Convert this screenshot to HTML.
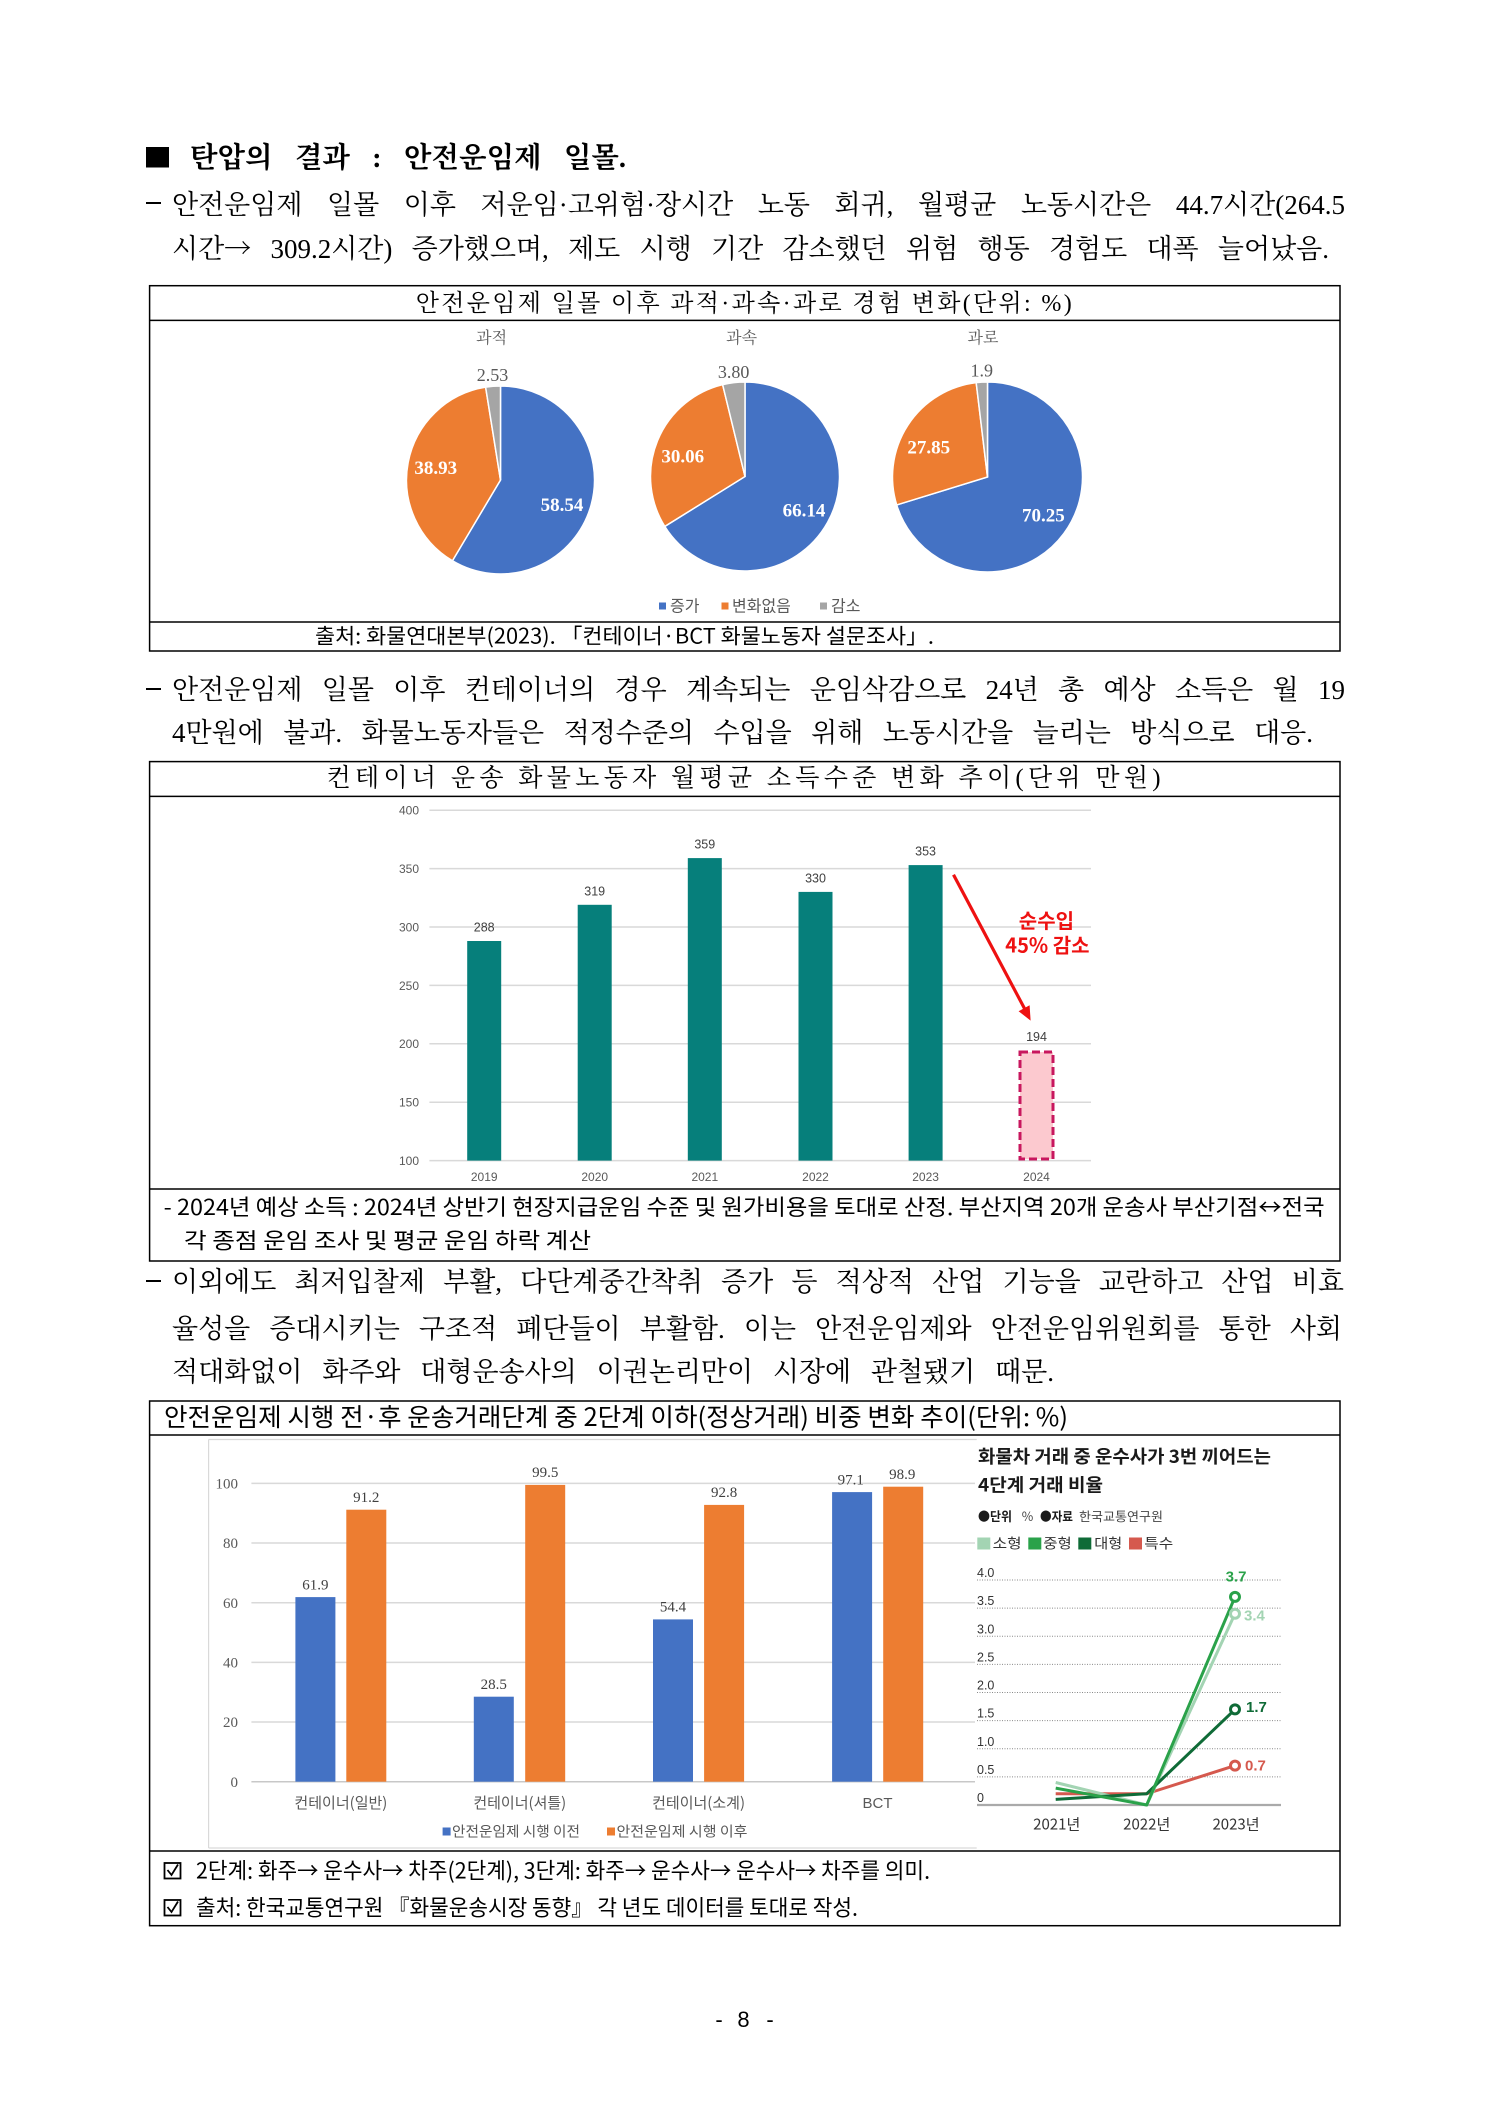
<!DOCTYPE html>
<html><head><meta charset="utf-8">
<style>
html,body{margin:0;padding:0;background:#fff}
#pg{position:relative;width:1488px;height:2105px;overflow:hidden;background:#fff}
.l{position:absolute;font-family:"Liberation Serif","Noto Serif CJK SC",serif;font-size:27px;line-height:40px;height:40px;text-align:justify;text-align-last:justify;color:#000;white-space:normal}
.a{font-family:"Noto Serif CJK SC",serif}
.d{position:absolute;left:146px;width:15px;height:2px;background:#000}
svg{position:absolute;left:0;top:0}
.sf{font-family:"Liberation Serif","Noto Serif CJK SC",serif}
.ss{font-family:"Liberation Sans","Noto Sans CJK KR",sans-serif}
.kr{font-family:"Noto Sans CJK KR","Liberation Sans",sans-serif}
</style></head><body><div id="pg">
<svg width="1488" height="2105" viewBox="0 0 1488 2105" xmlns="http://www.w3.org/2000/svg">
<!-- title square -->
<rect x="146" y="147" width="23" height="20.5" fill="#000"/>

<!-- ===== BOX 1 ===== -->
<g fill="none" stroke="#000" stroke-width="1.5">
<rect x="149.6" y="285.7" width="1190.4" height="365.3"/>
<line x1="149.6" y1="320.4" x2="1340" y2="320.4"/>
<line x1="149.6" y1="622" x2="1340" y2="622"/>
</g>
<text class="sf" x="415.7" y="311" font-size="24" textLength="656" lengthAdjust="spacing">안전운임제 일몰 이후 과적·과속·과로 경험 변화(단위: %)</text>
<g class="sf" font-size="16" fill="#595959" text-anchor="middle">
<text x="491.6" y="343">과적</text>
<text x="741.6" y="343">과속</text>
<text x="983" y="343">과로</text>
</g>
<g class="sf" font-size="18" fill="#595959" text-anchor="middle">
<text x="492.5" y="381">2.53</text>
<text x="733.6" y="378">3.80</text>
<text x="981.8" y="376.3">1.9</text>
</g>
<g stroke="#fff" stroke-width="1.5">
<path d="M500.5,480 L500.5,386 A94,94 0 1 1 452.44,560.78 Z" fill="#4472C4"/>
<path d="M500.5,480 L452.44,560.78 A94,94 0 0 1 485.62,387.18 Z" fill="#ED7D31"/>
<path d="M500.5,480 L485.62,387.18 A94,94 0 0 1 500.5,386 Z" fill="#A5A5A5"/>
<path d="M745,476.5 L745,382 A94.5,94.5 0 1 1 664.77,526.43 Z" fill="#4472C4"/>
<path d="M745,476.5 L664.77,526.43 A94.5,94.5 0 0 1 722.65,384.68 Z" fill="#ED7D31"/>
<path d="M745,476.5 L722.65,384.68 A94.5,94.5 0 0 1 745,382 Z" fill="#A5A5A5"/>
<path d="M987.5,477 L987.5,382 A95,95 0 1 1 896.70,504.93 Z" fill="#4472C4"/>
<path d="M987.5,477 L896.70,504.93 A95,95 0 0 1 976.19,382.67 Z" fill="#ED7D31"/>
<path d="M987.5,477 L976.19,382.67 A95,95 0 0 1 987.5,382 Z" fill="#A5A5A5"/>
</g>
<g class="sf" font-size="19" font-weight="bold" fill="#fff" text-anchor="middle">
<text x="562" y="511">58.54</text>
<text x="435.8" y="474">38.93</text>
<text x="804" y="516.5">66.14</text>
<text x="682.7" y="462.3">30.06</text>
<text x="1043.4" y="521.5">70.25</text>
<text x="928.7" y="453.6">27.85</text>
</g>
<rect x="659" y="602.5" width="7" height="7" fill="#4472C4"/>
<rect x="721.5" y="602.5" width="7" height="7" fill="#ED7D31"/>
<rect x="820" y="602.5" width="7" height="7" fill="#A5A5A5"/>
<g class="kr" font-size="16" fill="#595959">
<text x="670" y="611.5">증가</text>
<text x="732" y="611.5">변화없음</text>
<text x="831" y="611.5">감소</text>
</g>
<text class="kr" x="315" y="643.5" font-size="21" textLength="619" lengthAdjust="spacingAndGlyphs">출처: 화물연대본부(2023). 「컨테이너·BCT 화물노동자 설문조사」.</text>

<!-- ===== BOX 2 ===== -->
<g fill="none" stroke="#000" stroke-width="1.5">
<rect x="149.6" y="761.6" width="1190.4" height="499.4"/>
<line x1="149.6" y1="796.4" x2="1340" y2="796.4"/>
<line x1="149.6" y1="1189" x2="1340" y2="1189"/>
</g>
<text class="sf" x="326.6" y="786" font-size="25" textLength="834" lengthAdjust="spacing">컨테이너 운송 화물노동자 월평균 소득수준 변화 추이(단위 만원)</text>
<g stroke="#d9d9d9" stroke-width="1.5">
<line x1="429.4" y1="810.2" x2="1091" y2="810.2"/>
<line x1="429.4" y1="868.6" x2="1091" y2="868.6"/>
<line x1="429.4" y1="927" x2="1091" y2="927"/>
<line x1="429.4" y1="985.4" x2="1091" y2="985.4"/>
<line x1="429.4" y1="1043.8" x2="1091" y2="1043.8"/>
<line x1="429.4" y1="1102.2" x2="1091" y2="1102.2"/>
<line x1="429.4" y1="1160.6" x2="1091" y2="1160.6"/>
</g>
<g class="ss" font-size="12" fill="#595959" text-anchor="end">
<text x="419" y="814.5">400</text>
<text x="419" y="873">350</text>
<text x="419" y="931.4">300</text>
<text x="419" y="989.8">250</text>
<text x="419" y="1048.2">200</text>
<text x="419" y="1106.6">150</text>
<text x="419" y="1165">100</text>
</g>
<g fill="#067f7b">
<rect x="467.2" y="941" width="34" height="219.6"/>
<rect x="577.7" y="904.8" width="34" height="255.8"/>
<rect x="687.8" y="858.1" width="34" height="302.5"/>
<rect x="798.5" y="891.9" width="34" height="268.7"/>
<rect x="908.6" y="865.1" width="34" height="295.5"/>
</g>
<rect x="1020" y="1052" width="33" height="107" fill="#fcc9cf" stroke="#c8175e" stroke-width="3" stroke-dasharray="8,4"/>
<g class="ss" font-size="12.5" fill="#404040" text-anchor="middle">
<text x="484.2" y="931.5">288</text>
<text x="594.7" y="895.3">319</text>
<text x="704.8" y="848.6">359</text>
<text x="815.5" y="882.4">330</text>
<text x="925.6" y="855.6">353</text>
<text x="1036.5" y="1041">194</text>
</g>
<g class="ss" font-size="12" fill="#595959" text-anchor="middle">
<text x="484.2" y="1181">2019</text>
<text x="594.7" y="1181">2020</text>
<text x="704.8" y="1181">2021</text>
<text x="815.5" y="1181">2022</text>
<text x="925.6" y="1181">2023</text>
<text x="1036.5" y="1181">2024</text>
</g>
<line x1="953.5" y1="874.7" x2="1024.5" y2="1008.5" stroke="#ee1111" stroke-width="3.2"/>
<polygon points="1030.6,1020.6 1018.6,1011.2 1029.6,1005.2" fill="#ee1111"/>
<g class="kr" font-size="20" font-weight="bold" fill="#ee1111" text-anchor="middle">
<text x="1046.4" y="928">순수입</text>
<text x="1047.4" y="952.5">45% 감소</text>
</g>
<text class="kr" x="163.7" y="1215" font-size="22" textLength="1161" lengthAdjust="spacingAndGlyphs">- 2024년 예상 소득 : 2024년 상반기 현장지급운임 수준 및 원가비용을 토대로 산정. 부산지역 20개 운송사 부산기점↔전국</text>
<text class="kr" x="184" y="1248.7" font-size="22" textLength="407" lengthAdjust="spacingAndGlyphs">각 종점 운임 조사 및 평균 운임 하락 계산</text>

<!-- ===== BOX 3 ===== -->
<g fill="none" stroke="#000" stroke-width="1.5">
<rect x="149.6" y="1401" width="1190.4" height="524.7"/>
<line x1="149.6" y1="1435" x2="1340" y2="1435"/>
<line x1="149.6" y1="1851" x2="1340" y2="1851"/>
</g>
<text class="kr" x="164" y="1426" font-size="25" textLength="904" lengthAdjust="spacingAndGlyphs">안전운임제 시행 전·후 운송거래단계 중 2단계 이하(정상거래) 비중 변화 추이(단위: %)</text>
<g stroke="#d9d9d9" stroke-width="1.2" fill="none">
<line x1="208.6" y1="1439.5" x2="208.6" y2="1848"/>
<line x1="208.6" y1="1439.5" x2="976.7" y2="1439.5"/>
<line x1="208.6" y1="1848" x2="976.7" y2="1848"/>
</g>
<g stroke="#d9d9d9" stroke-width="1.5">
<line x1="251.4" y1="1483.4" x2="975" y2="1483.4"/>
<line x1="251.4" y1="1543" x2="975" y2="1543"/>
<line x1="251.4" y1="1602.7" x2="975" y2="1602.7"/>
<line x1="251.4" y1="1662.4" x2="975" y2="1662.4"/>
<line x1="251.4" y1="1722" x2="975" y2="1722"/>
<line x1="251.4" y1="1781.7" x2="975" y2="1781.7" stroke="#c8c8c8"/>
</g>
<g class="sf" font-size="15" fill="#595959" text-anchor="end">
<text x="238" y="1488.6">100</text>
<text x="238" y="1548.2">80</text>
<text x="238" y="1607.9">60</text>
<text x="238" y="1667.6">40</text>
<text x="238" y="1727.2">20</text>
<text x="238" y="1786.9">0</text>
</g>
<g fill="#4472C4">
<rect x="295.4" y="1597.1" width="40" height="184.6"/>
<rect x="473.8" y="1696.7" width="40" height="85"/>
<rect x="653" y="1619.4" width="40" height="162.3"/>
<rect x="832.1" y="1492.1" width="40" height="289.6"/>
</g>
<g fill="#ED7D31">
<rect x="346.3" y="1509.7" width="40" height="272"/>
<rect x="525.2" y="1484.9" width="40" height="296.8"/>
<rect x="704.1" y="1504.9" width="40" height="276.8"/>
<rect x="883.2" y="1486.7" width="40" height="295"/>
</g>
<g class="sf" font-size="15" fill="#404040" text-anchor="middle">
<text x="315.4" y="1589.3">61.9</text>
<text x="366.3" y="1501.9">91.2</text>
<text x="493.8" y="1688.9">28.5</text>
<text x="545.2" y="1477.1">99.5</text>
<text x="673" y="1611.6">54.4</text>
<text x="724.1" y="1497.1">92.8</text>
<text x="850.8" y="1484.3">97.1</text>
<text x="902.2" y="1478.9">98.9</text>
</g>
<g class="kr" font-size="15" fill="#595959" text-anchor="middle">
<text x="340.9" y="1808">컨테이너(일반)</text>
<text x="519.8" y="1808">컨테이너(셔틀)</text>
<text x="698.6" y="1808">컨테이너(소계)</text>
<text x="877.5" y="1808" class="ss">BCT</text>
</g>
<rect x="442.6" y="1827.5" width="8" height="8" fill="#4472C4"/>
<rect x="607" y="1827.5" width="8" height="8" fill="#ED7D31"/>
<g class="kr" font-size="14" fill="#595959">
<text x="452" y="1836.5" textLength="128" lengthAdjust="spacingAndGlyphs">안전운임제 시행 이전</text>
<text x="616.5" y="1836.5" textLength="131" lengthAdjust="spacingAndGlyphs">안전운임제 시행 이후</text>
</g>

<!-- line chart -->
<g class="kr" font-weight="bold" fill="#1a1a1a">
<text x="978" y="1463" font-size="18" textLength="293" lengthAdjust="spacingAndGlyphs">화물차 거래 중 운수사가 3번 끼어드는</text>
<text x="978" y="1491.5" font-size="18" textLength="125" lengthAdjust="spacingAndGlyphs">4단계 거래 비율</text>
</g>
<g class="kr" font-size="12.5" fill="#1a1a1a">
<text x="978" y="1521" font-weight="bold" textLength="34" lengthAdjust="spacingAndGlyphs">●단위</text>
<text x="1021.7" y="1521" fill="#444">%</text>
<text x="1040" y="1521" font-weight="bold" textLength="33" lengthAdjust="spacingAndGlyphs">●자료</text>
<text x="1079" y="1521" fill="#444" textLength="84" lengthAdjust="spacingAndGlyphs">한국교통연구원</text>
</g>
<rect x="977.3" y="1537.5" width="13" height="12" fill="#a3d4b3"/>
<rect x="1028.3" y="1537.5" width="13" height="12" fill="#2aa24a"/>
<rect x="1078.3" y="1537.5" width="13" height="12" fill="#0f6b37"/>
<rect x="1129" y="1537.5" width="13" height="12" fill="#d5594e"/>
<g class="kr" font-size="14" fill="#333">
<text x="992.7" y="1548.5" textLength="29" lengthAdjust="spacingAndGlyphs">소형</text>
<text x="1043.3" y="1548.5" textLength="28.5" lengthAdjust="spacingAndGlyphs">중형</text>
<text x="1094.3" y="1548.5" textLength="28" lengthAdjust="spacingAndGlyphs">대형</text>
<text x="1144.3" y="1548.5" textLength="29" lengthAdjust="spacingAndGlyphs">특수</text>
</g>
<g stroke="#8a8a8a" stroke-width="1" stroke-dasharray="1,1.5">
<line x1="977" y1="1580" x2="1281" y2="1580"/>
<line x1="977" y1="1608.1" x2="1281" y2="1608.1"/>
<line x1="977" y1="1636.3" x2="1281" y2="1636.3"/>
<line x1="977" y1="1664.4" x2="1281" y2="1664.4"/>
<line x1="977" y1="1692.5" x2="1281" y2="1692.5"/>
<line x1="977" y1="1720.6" x2="1281" y2="1720.6"/>
<line x1="977" y1="1748.8" x2="1281" y2="1748.8"/>
<line x1="977" y1="1776.9" x2="1281" y2="1776.9"/>
</g>
<line x1="977" y1="1805" x2="1281" y2="1805" stroke="#aaa" stroke-width="2.2"/>
<g class="ss" font-size="12.5" fill="#333">
<text x="977" y="1577">4.0</text>
<text x="977" y="1605.1">3.5</text>
<text x="977" y="1633.3">3.0</text>
<text x="977" y="1661.4">2.5</text>
<text x="977" y="1689.5">2.0</text>
<text x="977" y="1717.6">1.5</text>
<text x="977" y="1745.8">1.0</text>
<text x="977" y="1773.9">0.5</text>
<text x="977" y="1802">0</text>
</g>
<g class="kr" font-size="15" fill="#333" text-anchor="middle">
<text x="1056.7" y="1829.5">2021년</text>
<text x="1146.7" y="1829.5">2022년</text>
<text x="1236" y="1829.5">2023년</text>
</g>
<g fill="none" stroke-width="3" stroke-linejoin="round">
<polyline points="1055.7,1793.75 1146.7,1793.75 1235,1765.6" stroke="#d5594e"/>
<polyline points="1055.7,1782.5 1146.7,1805 1235,1613.75" stroke="#a3d4b3"/>
<polyline points="1055.7,1799.4 1146.7,1793.75 1235,1709.4" stroke="#0f6b37"/>
<polyline points="1055.7,1788.1 1146.7,1805 1235,1596.9" stroke="#2aa24a"/>
</g>
<g fill="#fff" stroke-width="3">
<circle cx="1235" cy="1765.6" r="4.5" stroke="#d5594e"/>
<circle cx="1235" cy="1709.4" r="4.5" stroke="#0f6b37"/>
<circle cx="1235" cy="1613.75" r="4.5" stroke="#a3d4b3"/>
<circle cx="1235" cy="1596.9" r="4.5" stroke="#2aa24a"/>
</g>
<g class="ss" font-size="15" font-weight="bold">
<text x="1236" y="1581.5" text-anchor="middle" fill="#2aa24a">3.7</text>
<text x="1244" y="1620.5" fill="#a3d4b3">3.4</text>
<text x="1246" y="1712" fill="#0f6b37">1.7</text>
<text x="1245" y="1770.5" fill="#d5594e">0.7</text>
</g>
<g fill="none" stroke="#000" stroke-width="1.8">
<rect x="164.5" y="1863" width="16" height="15.5"/>
<polyline points="167.5,1870 171.5,1875 178,1864.5"/>
<rect x="164.5" y="1900" width="16" height="15.5"/>
<polyline points="167.5,1907 171.5,1912 178,1901.5"/>
</g>
<g class="kr" font-size="22" fill="#000">
<text x="196" y="1878.5" textLength="734" lengthAdjust="spacingAndGlyphs">2단계: 화주→ 운수사→ 차주(2단계), 3단계: 화주→ 운수사→ 운수사→ 차주를 의미.</text>
<text x="196" y="1915.5" textLength="662" lengthAdjust="spacingAndGlyphs">출처: 한국교통연구원 『화물운송시장 동향』 각 년도 데이터를 토대로 작성.</text>
</g>
<g class="ss" font-size="22" fill="#000" text-anchor="middle">
<text x="719" y="2027">-</text>
<text x="743.5" y="2027">8</text>
<text x="770" y="2027">-</text>
</g>
</svg>

<!-- title -->
<div class="l" style="left:190px;top:139px;width:436px;font-weight:bold;font-size:28.5px">탄압의 결과 : 안전운임제 일몰.</div>
<!-- para 1 -->
<div class="d" style="top:202px"></div>
<div class="l" style="left:172px;top:185px;width:1173px">안전운임제 일몰 이후 저운임·고위험·장시간 노동 회귀, 월평균 노동시간은 44.7시간(264.5</div>
<div class="l" style="left:172px;top:227px;width:1157px">시간<span class="a">→</span> 309.2시간) 증가했으며, 제도 시행 기간 감소했던 위험 행동 경험도 대폭 늘어났음.</div>
<!-- para 2 -->
<div class="d" style="top:688px"></div>
<div class="l" style="left:172px;top:670px;width:1173px">안전운임제 일몰 이후 컨테이너의 경우 계속되는 운임삭감으로 24년 총 예상 소득은 월 19</div>
<div class="l" style="left:172px;top:713px;width:1141px">4만원에 불과. 화물노동자들은 적정수준의 수입을 위해 노동시간을 늘리는 방식으로 대응.</div>
<!-- para 3 -->
<div class="d" style="top:1280px"></div>
<div class="l" style="left:172px;top:1262px;width:1172px">이외에도 최저입찰제 부활, 다단계중간착취 증가 등 적상적 산업 기능을 교란하고 산업 비효</div>
<div class="l" style="left:172px;top:1309px;width:1170px">율성을 증대시키는 구조적 폐단들이 부활함. 이는 안전운임제와 안전운임위원회를 통한 사회</div>
<div class="l" style="left:172px;top:1352px;width:882px">적대화없이 화주와 대형운송사의 이권논리만이 시장에 관철됐기 때문.</div>
</div></body></html>
